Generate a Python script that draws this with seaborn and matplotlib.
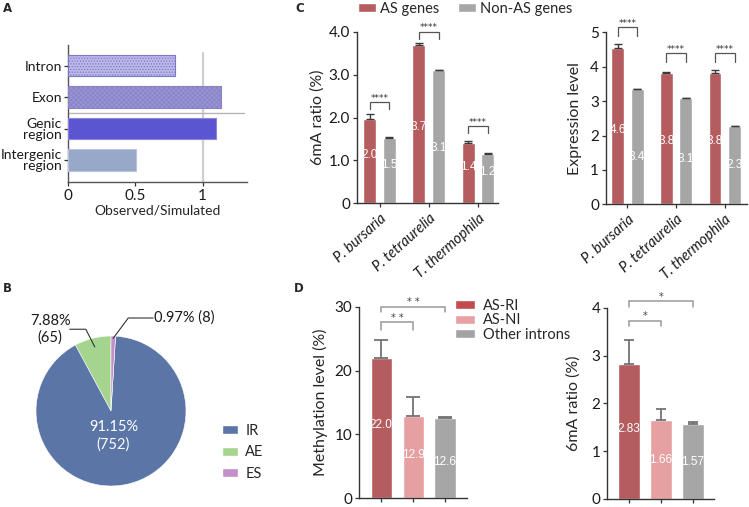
import numpy as np
import pandas as pd
import matplotlib
matplotlib.use("Agg")
import matplotlib.pyplot as plt
import seaborn as sns
from matplotlib.patches import Patch

sns.set_theme(style="ticks")
plt.rcParams["font.family"] = ["Lato", "DejaVu Sans"]
plt.rcParams["hatch.linewidth"] = 0.6

# ---------------- data ----------------
a_categories = ["Intron", "Exon", "Genic\nregion", "Intergenic\nregion"]
a_values = [0.795, 1.14, 1.10, 0.506]
a_ticks = [0, 0.5, 1]
a_tick_labels = ["0", "0.5", "1"]

b_labels = ["IR", "AE", "ES"]
b_counts = [752, 65, 8]
b_pcts = [91.15, 7.88, 0.97]

species = ["P. bursaria", "P. tetraurelia", "T. thermophila"]
c_groups = ["AS genes", "Non-AS genes"]
c1_as = [1.96, 3.70, 1.41]
c1_non = [1.53, 3.10, 1.16]
c1_as_err = [0.11, 0.04, 0.04]
c1_non_err = [0.01, 0.01, 0.01]
c1_as_lbl = ["2.0", "3.7", "1.4"]
c1_non_lbl = ["1.5", "3.1", "1.2"]
c1_ticks = [0, 1, 2, 3, 4]
c1_tick_labels = ["0", "1.0", "2.0", "3.0", "4.0"]

c2_as = [4.55, 3.82, 3.83]
c2_non = [3.35, 3.09, 2.28]
c2_as_err = [0.10, 0.03, 0.07]
c2_non_err = [0.01, 0.01, 0.01]
c2_as_lbl = ["4.6", "3.8", "3.8"]
c2_non_lbl = ["3.4", "3.1", "2.3"]
c2_ticks = [0, 1, 2, 3, 4, 5]

d_categories = ["AS-RI", "AS-NI", "Other introns"]
d1_values = [21.9, 12.9, 12.5]
d1_err = [2.9, 2.9, 0.3]
d1_lbl = ["22.0", "12.9", "12.6"]
d1_ticks = [0, 10, 20, 30]
d1_sig = ["* *", "* *"]

d2_values = [2.82, 1.65, 1.57]
d2_err = [0.51, 0.24, 0.03]
d2_lbl = ["2.83", "1.66", "1.57"]
d2_ticks = [0, 1, 2, 3, 4]
d2_sig = ["*", "*"]

c_sig = ["****", "****", "****"]

# ---------------- style / layout ----------------
W, H = 749, 507
fig = plt.figure(figsize=(W / 100, H / 100), dpi=100)


def add_ax(l, t, r, b):
    return fig.add_axes([l / W, 1 - b / H, (r - l) / W, (b - t) / H])


SPINE = "#333333"
RED = "#b55c5f"
GRAY = "#a6a6a6"
PINK = "#e6a0a1"
LBLFONT = ["Liberation Sans", "DejaVu Sans"]
TICKFS = 11


def style_axes(ax, fs=TICKFS):
    for s in ["top", "right"]:
        ax.spines[s].set_visible(False)
    for s in ["left", "bottom"]:
        ax.spines[s].set_color(SPINE)
        ax.spines[s].set_linewidth(1.0)
    ax.tick_params(axis="both", length=3, width=0.9, color=SPINE,
                   labelsize=fs, pad=2, labelcolor="#1a1a1a")


def bar_centers(ax):
    out = []
    for cont in ax.containers:
        out.append([(p.get_x() + p.get_width() / 2, p.get_height()) for p in cont])
    return out


def bracket(ax, x0, x1, top, drop, text, color, tcolor, fs=6.5, lw=0.9, off=1.0):
    ax.plot([x0, x0, x1, x1], [top - drop, top, top, top - drop], color=color,
            lw=lw, clip_on=False, solid_joinstyle="miter")
    ax.annotate(text, ((x0 + x1) / 2, top), xytext=(0, off), textcoords="offset points",
                ha="center", va="baseline", fontsize=fs, color=tcolor,
                family=["DejaVu Sans"], annotation_clip=False)


# ---------------- panel A ----------------
axA = add_ax(67.7, 45, 247, 181.7)
a_colors = ["#bcb9ea", "#9995d4", "#5b55d1", "#97a8c8"]
sns.barplot(x=a_values, y=a_categories, hue=a_categories, orient="h", palette=a_colors,
            width=0.68, saturation=1, legend=False, ax=axA, zorder=3)
hatches = ["......", "xxxxxxx", None, None]
hcols = ["#7c78c4", "#8783c6", "#8a86e0", "#b8c4dc"]
for cont, h, hc in zip(axA.containers, hatches, hcols):
    for p in cont:
        p.set_edgecolor(hc)
        p.set_linewidth(0.8)
        if h:
            p.set_hatch(h)
axA.set_xlim(0, 1.33)
axA.set_ylim(3.69, -0.66)
axA.plot([1, 1], [-0.42, 3.69], color="#cfcfcf", lw=1.6, zorder=1)
axA.plot([0, 1.31], [1.5, 1.5], color="#b5b5b5", lw=1.0, zorder=1)
style_axes(axA, fs=10)
axA.spines["left"].set_color("#555555")
axA.spines["bottom"].set_color("#555555")
axA.tick_params(axis="y", pad=1.2)
axA.set_xticks(a_ticks)
axA.set_xticklabels(a_tick_labels)
axA.tick_params(axis="x", labelsize=11)
for t in axA.get_yticklabels():
    t.set_linespacing(0.92)
axA.set_xlabel("Observed/Simulated", fontsize=10, labelpad=1)
axA.set_ylabel("")

# ---------------- panel B ----------------
axB = add_ax(36, 336, 186, 486)
b_colors = {"IR": "#5b76a6", "AE": "#a4d48e", "ES": "#c48ec8"}
pie_order = ["AE", "IR", "ES"]
pie_vals = [b_counts[b_labels.index(k)] for k in pie_order]
wedges, _ = axB.pie(pie_vals, colors=[b_colors[k] for k in pie_order], startangle=90,
                    counterclock=True, radius=1.0,
                    wedgeprops=dict(edgecolor="white", linewidth=0.4))
axB.set_xlim(-1, 1)
axB.set_ylim(-1, 1)
axB.set_aspect("equal")
wd = dict(zip(pie_order, wedges))


def mid_point(w, r):
    th = np.deg2rad((w.theta1 + w.theta2) / 2)
    return r * np.cos(th), r * np.sin(th)


ir = b_labels.index("IR")
mx, my = mid_point(wd["IR"], 0.34)
axB.text(mx - 0.04, my, f"{b_pcts[ir]:.2f}%\n({b_counts[ir]})", color="white",
         ha="center", va="center", fontsize=10.5, linespacing=1.3)
ae = b_labels.index("AE")
px, py = mid_point(wd["AE"], 0.88)
axB.plot([px, px - 0.12, -0.55], [py, 1.09, 1.09], color="#333", lw=0.8, clip_on=False)
axB.text(-0.81, 1.09, f"{b_pcts[ae]:.2f}%\n({b_counts[ae]})", ha="center", va="center",
         fontsize=10.5, linespacing=1.25, color="#1a1a1a")
es = b_labels.index("ES")
px, py = mid_point(wd["ES"], 0.97)
axB.plot([px, 0.23, 0.56], [py, 1.24, 1.24], color="#333", lw=0.8, clip_on=False)
axB.text(0.58, 1.24, f"{b_pcts[es]:.2f}% ({b_counts[es]})", ha="left", va="center",
         fontsize=10.5, color="#1a1a1a")
fig.legend(handles=[Patch(facecolor=b_colors[k]) for k in b_labels], labels=b_labels,
           loc="upper left", bbox_to_anchor=(222 / W, 1 - 424 / H), frameon=False,
           fontsize=10.5, handlelength=1.1, handleheight=0.6, handletextpad=0.5,
           labelspacing=0.5, borderpad=0, borderaxespad=0)


# ---------------- panel C ----------------
def panel_c(ax, as_v, non_v, as_e, non_e, as_l, non_l, lbl_y, br_top, br_drop, ylim, xlim):
    df = pd.DataFrame({"species": species * 2,
                       "group": [c_groups[0]] * 3 + [c_groups[1]] * 3,
                       "value": as_v + non_v})
    sns.barplot(data=df, x="species", y="value", hue="group", palette=[RED, GRAY],
                width=0.8, gap=0.34, saturation=1, legend=False, errorbar=None, ax=ax,
                zorder=2)
    cents = bar_centers(ax)
    for pos, errs, labs, ly in zip(cents, [as_e, non_e], [as_l, non_l], lbl_y):
        xs = [p[0] for p in pos]
        hs = [p[1] for p in pos]
        ax.errorbar(xs, hs, yerr=[np.zeros(len(errs)), errs], fmt="none", ecolor="#3a3a3a",
                    elinewidth=1.0, capsize=2.6, capthick=1.0, zorder=3)
        for x, lab, y in zip(xs, labs, ly):
            ax.text(x, y, lab, color="white", ha="center", va="center", fontsize=8.5,
                    family=LBLFONT, zorder=4)
    for i in range(3):
        bracket(ax, cents[0][i][0], cents[1][i][0], br_top[i], br_drop, c_sig[i],
                "#555555", "#333333")
    ax.set_ylim(*ylim)
    ax.set_xlim(*xlim)
    style_axes(ax)
    ax.set_xlabel("")
    ax.set_xticks(range(3))
    ax.set_xticklabels(species, rotation=42, ha="right", rotation_mode="anchor",
                       fontstyle="italic", fontsize=10.5)
    ax.tick_params(axis="x", pad=3)


axC1 = add_ax(357, 31.7, 498, 203.3)
panel_c(axC1, c1_as, c1_non, c1_as_err, c1_non_err, c1_as_lbl, c1_non_lbl,
        [[1.12, 1.78, 0.85], [0.89, 1.28, 0.73]], [2.36, 4.0, 1.80], 0.17, (0, 4), (-0.46, 2.41))
axC1.set_yticks(c1_ticks)
axC1.set_yticklabels(c1_tick_labels)
axC1.set_ylabel("6mA ratio (%)", fontsize=11.5, labelpad=3)

axC2 = add_ax(606, 32.3, 746.7, 204.3)
panel_c(axC2, c2_as, c2_non, c2_as_err, c2_non_err, c2_as_lbl, c2_non_lbl,
        [[2.16, 1.85, 1.85], [1.38, 1.31, 1.14]], [5.14, 4.39, 4.39], 0.26, (0, 5), (-0.44, 2.45))
axC2.set_yticks(c2_ticks)
axC2.set_ylabel("Expression level", fontsize=11.5, labelpad=6)

fig.legend(handles=[Patch(facecolor=RED), Patch(facecolor=GRAY)], labels=c_groups,
           loc="upper left", bbox_to_anchor=(358 / W, 1 - 2 / H), frameon=False, ncol=2,
           fontsize=10.5, handlelength=1.25, handleheight=0.6, handletextpad=0.25,
           columnspacing=1.3, borderpad=0, borderaxespad=0)


# ---------------- panel D ----------------
d_colors = [RED, PINK, GRAY]


def panel_d(ax, vals, errs, labs, lbl_y, br, sig, ylim, xlim, capsize):
    sns.barplot(x=d_categories, y=vals, hue=d_categories, palette=d_colors, width=0.665,
                saturation=1, legend=False, errorbar=None, ax=ax, zorder=2)
    cents = [c[0] for c in bar_centers(ax)]
    xs = [c[0] for c in cents]
    hs = [c[1] for c in cents]
    ax.errorbar(xs, hs, yerr=[np.zeros(len(errs)), errs], fmt="none", ecolor="#737373",
                elinewidth=1.3, capsize=capsize, capthick=1.3, zorder=3)
    for x, lab, y in zip(xs, labs, lbl_y):
        ax.text(x, y, lab, color="white", ha="center", va="center", fontsize=8.5,
                family=LBLFONT, zorder=4)
    for (j, top, drop), s in zip(br, sig):
        bracket(ax, xs[0], xs[j], top, drop, s, "#9a9a9a", "#444444", fs=7, lw=1.1)
    ax.set_ylim(*ylim)
    ax.set_xlim(*xlim)
    style_axes(ax)
    ax.set_xticks(range(3))
    ax.set_xticklabels([])
    ax.set_xlabel("")


axD1 = add_ax(359.3, 306.7, 466.7, 498.3)
panel_d(axD1, d1_values, d1_err, d1_lbl, [11.5, 6.8, 5.7],
        [(1, 27.6, 1.2), (2, 30.0, 0.8)], d1_sig, (0, 30), (-0.69, 2.68), 4.8)
axD1.set_yticks(d1_ticks)
axD1.set_ylabel("Methylation level (%)", fontsize=11.5, labelpad=5)

axD2 = add_ax(607.3, 307.7, 714.3, 499)
panel_d(axD2, d2_values, d2_err, d2_lbl, [1.46, 0.82, 0.77],
        [(1, 3.73, 0.11), (2, 4.13, 0.11)], d2_sig, (0, 4), (-0.67, 2.66), 3.8)
axD2.set_yticks(d2_ticks)
axD2.set_ylabel("6mA ratio (%)", fontsize=11.5, labelpad=8)

d_leg_colors = ["#c24b4e", "#e8a0a3", "#a3a3a3"]
fig.legend(handles=[Patch(facecolor=c) for c in d_leg_colors], labels=d_categories,
           loc="upper left", bbox_to_anchor=(455 / W, 1 - 299 / H), frameon=False,
           fontsize=10.5, handlelength=1.4, handleheight=0.6, handletextpad=0.5,
           labelspacing=0.02, borderpad=0, borderaxespad=0)

# ---------------- panel letters ----------------
for letter, (x, y) in {"A": (3, 8), "B": (3, 288), "C": (295, 8), "D": (294, 288)}.items():
    fig.text(x / W, 1 - y / H, letter, fontsize=8.5, fontweight="bold", va="center",
             ha="left", family=["DejaVu Sans"])

fig.savefig("out.png", dpi=100)
